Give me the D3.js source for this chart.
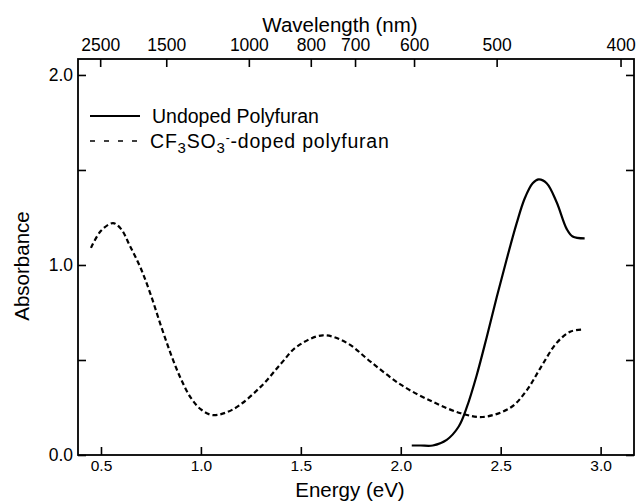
<!DOCTYPE html>
<html>
<head>
<meta charset="utf-8">
<script src="https://cdn.jsdelivr.net/npm/d3@7"></script>
<style>
  html, body { margin: 0; padding: 0; background: #fff; }
  svg { display: block; }
  text { font-family: "Liberation Sans", Arial, Helvetica, sans-serif; fill: #000; }
</style>
</head>
<body>
<svg id="chart" width="637" height="504"></svg>
<script>
// Absorption spectra of polyfuran, energy (eV) vs absorbance
const undopedEnergy = [2.055, 2.10, 2.16, 2.23, 2.29, 2.33, 2.38, 2.43, 2.48, 2.53, 2.58, 2.62, 2.66, 2.69, 2.73, 2.78, 2.83, 2.86, 2.92];
const undopedAbs    = [0.05, 0.05, 0.05, 0.08, 0.15, 0.25, 0.42, 0.62, 0.83, 1.03, 1.22, 1.35, 1.43, 1.45, 1.43, 1.33, 1.19, 1.15, 1.14];

const dopedEnergy = [0.45, 0.50, 0.56, 0.60, 0.645, 0.70, 0.75, 0.80, 0.85, 0.90, 0.95, 1.00, 1.06, 1.16, 1.30, 1.40, 1.48, 1.61, 1.73, 1.85, 2.00, 2.16, 2.30, 2.41, 2.55, 2.63, 2.70, 2.78, 2.85, 2.91];
const dopedAbs    = [1.09, 1.18, 1.22, 1.19, 1.10, 0.98, 0.84, 0.68, 0.53, 0.40, 0.30, 0.24, 0.21, 0.24, 0.36, 0.48, 0.57, 0.63, 0.59, 0.49, 0.37, 0.28, 0.22, 0.20, 0.25, 0.34, 0.46, 0.59, 0.65, 0.66];

const energyTicks = [0.5, 1.0, 1.5, 2.0, 2.5, 3.0];
const absTicks = [0, 0.5, 1.0, 1.5, 2.0];
const absLabels = ["0.0", "", "1.0", "", "2.0"];
const wavelengthTicks = [2500, 1500, 1000, 800, 700, 600, 500, 400];

const svg = d3.select("#chart");
const plotLeft = 78, plotRight = 634, plotTop = 59, plotBottom = 455;

const x = d3.scaleLinear().domain([0.385, 3.167]).range([plotLeft, plotRight]);
const y = d3.scaleLinear().domain([0, 2.084]).range([plotBottom, plotTop]);

const tickLen = 8;
const font = "Liberation Sans, Arial, Helvetica, sans-serif";

function styleAxis(g, size) {
  g.select(".domain").remove();
  g.selectAll(".tick line").attr("stroke", "#000").attr("stroke-width", 1.6);
  g.selectAll(".tick text").attr("font-family", font).attr("font-size", size).attr("fill", "#000");
}

// Bottom axis: energy
const gx = svg.append("g").attr("transform", `translate(0,${plotBottom})`)
  .call(d3.axisBottom(x).tickValues(energyTicks).tickFormat(d3.format(".1f"))
    .tickSizeInner(-tickLen).tickSizeOuter(0).tickPadding(5));
styleAxis(gx, 15.5);

// Left axis: absorbance
const gy = svg.append("g").attr("transform", `translate(${plotLeft},0)`)
  .call(d3.axisLeft(y).tickValues(absTicks).tickFormat((d, i) => absLabels[i])
    .tickSizeInner(-tickLen).tickSizeOuter(0).tickPadding(5));
styleAxis(gy, 17.5);

// Right axis: ticks only
const gr = svg.append("g").attr("transform", `translate(${plotRight},0)`)
  .call(d3.axisRight(y).tickValues(absTicks).tickFormat("").tickSizeInner(-tickLen).tickSizeOuter(0));
styleAxis(gr, 15);

// Top axis: wavelength placed at E = hc / lambda
const hc = 1239.84;
const gt = svg.append("g").attr("transform", `translate(0,${plotTop})`)
  .call(d3.axisTop(x).tickValues(wavelengthTicks.map(w => hc / w))
    .tickFormat((d, i) => wavelengthTicks[i])
    .tickSizeInner(-tickLen).tickSizeOuter(0).tickPadding(8));
styleAxis(gt, 17.5);

// Frame
svg.append("rect")
  .attr("x", plotLeft).attr("y", plotTop)
  .attr("width", plotRight - plotLeft).attr("height", plotBottom - plotTop)
  .attr("fill", "none").attr("stroke", "#000").attr("stroke-width", 1.8);

// Curves
const line = d3.line().x(d => x(d[0])).y(d => y(d[1])).curve(d3.curveCatmullRom.alpha(0.5));

svg.append("path")
  .datum(dopedEnergy.map((e, i) => [e, dopedAbs[i]]))
  .attr("d", line).attr("fill", "none").attr("stroke", "#000")
  .attr("stroke-width", 2.2).attr("stroke-dasharray", "5,3");

svg.append("path")
  .datum(undopedEnergy.map((e, i) => [e, undopedAbs[i]]))
  .attr("d", line).attr("fill", "none").attr("stroke", "#000")
  .attr("stroke-width", 2.2);

// Legend
const lg = svg.append("g");
lg.append("line").attr("x1", 90).attr("x2", 140).attr("y1", 116).attr("y2", 116)
  .attr("stroke", "#000").attr("stroke-width", 2);
lg.append("line").attr("x1", 90).attr("x2", 138).attr("y1", 141).attr("y2", 141)
  .attr("stroke", "#000").attr("stroke-width", 1.6).attr("stroke-dasharray", "5,9");
lg.append("text").attr("x", 152).attr("y", 123).attr("font-size", 19.5).text("Undoped Polyfuran");

const t2 = lg.append("text").attr("x", 150).attr("y", 148).attr("font-size", 19.5)
  .attr("letter-spacing", 0.8);
t2.append("tspan").text("CF");
t2.append("tspan").attr("font-size", 15).attr("dy", 5).text("3");
t2.append("tspan").attr("dy", -5).text("SO");
t2.append("tspan").attr("font-size", 15).attr("dy", 5).text("3");
t2.append("tspan").attr("font-size", 12).attr("dy", -11).text("-");
t2.append("tspan").attr("dy", 6).text("-doped polyfuran");

// Axis titles
svg.append("text").attr("x", 350).attr("y", 497).attr("text-anchor", "middle")
  .attr("font-size", 20.5).text("Energy (eV)");
svg.append("text").attr("x", 340).attr("y", 32).attr("text-anchor", "middle")
  .attr("font-size", 20.5).text("Wavelength (nm)");
svg.append("text").attr("transform", "translate(29,266) rotate(-90)").attr("text-anchor", "middle")
  .attr("font-size", 20.5).text("Absorbance");
</script>
</body>
</html>
